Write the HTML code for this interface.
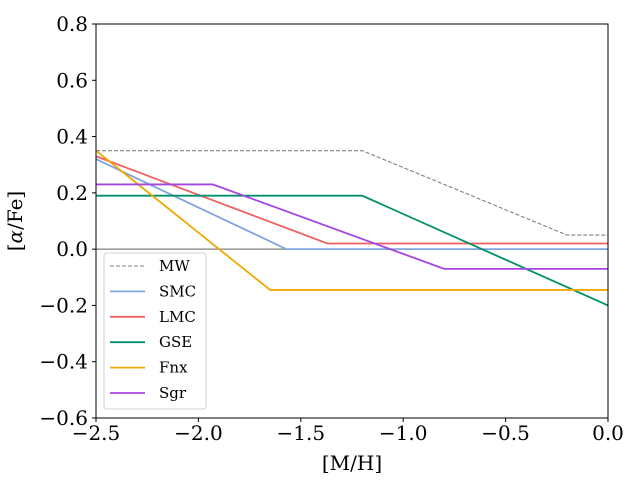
<!DOCTYPE html>
<html><head><meta charset="utf-8"><style>
body{margin:0;background:#fff}
text{font-family:"DejaVu Serif","Liberation Serif",serif;fill:#000}
</style></head><body>
<svg id="c" width="640" height="480" xmlns="http://www.w3.org/2000/svg"></svg>
<script>
const xTicks=[-2.5,-2.0,-1.5,-1.0,-0.5,0.0];
const yTicks=[-0.6,-0.4,-0.2,0.0,0.2,0.4,0.6,0.8];
const seriesNames=["MW","SMC","LMC","GSE","Fnx","Sgr"];
const mwX=[-2.5,-1.2,-0.2,0.0], mwY=[0.35,0.35,0.05,0.05];
const smcX=[-2.5,-1.57,0.0], smcY=[0.32,0.0,0.0];
const lmcX=[-2.5,-1.37,0.0], lmcY=[0.33,0.02,0.02];
const gseX=[-2.5,-1.2,0.0], gseY=[0.19,0.19,-0.2];
const fnxX=[-2.5,-1.65,0.0], fnxY=[0.35,-0.145,-0.145];
const sgrX=[-2.5,-1.93,-0.8,0.0], sgrY=[0.23,0.23,-0.07,-0.07];
const colors=["#808080","#7fa5e0","#f0605f","#00906a","#eeaa00","#a545e0"];
const L=96,R=608,T=24,B=418;
const sx=v=>L+(v+2.5)/2.5*(R-L);
const sy=v=>T+(0.8-v)/1.4*(B-T);
const svg=document.getElementById('c');
const NS="http://www.w3.org/2000/svg";
function mk(t,a,p){const e=document.createElementNS(NS,t);for(const k in a)e.setAttribute(k,a[k]);(p||svg).appendChild(e);return e;}
let z=mk('line',{x1:L,x2:R,y1:sy(0),y2:sy(0),stroke:'#808080','stroke-width':1.2});


const xs=[mwX,smcX,lmcX,gseX,fnxX,sgrX], ys=[mwY,smcY,lmcY,gseY,fnxY,sgrY];
xs.forEach((X,i)=>{
 const pts=X.map((x,j)=>sx(x)+','+sy(ys[i][j])).join(' ');
 const p=mk('polyline',{points:pts,fill:'none',stroke:colors[i],'stroke-width':1.8});
 if(i==0){p.setAttribute('stroke-dasharray','4,2');p.setAttribute('stroke-width',1.1);}
 
 
});
const ax=mk('rect',{x:L,y:T,width:R-L,height:B-T,fill:'none',stroke:'#000','stroke-width':1});


xTicks.forEach(t=>{
 mk('line',{x1:sx(t),x2:sx(t),y1:B,y2:B+4,stroke:'#000'});
 const tx=mk('text',{x:sx(t),y:B+22,'text-anchor':'middle','font-size':20});
 tx.textContent=(t<0?'\u2212':'')+Math.abs(t).toFixed(1);
 
 
});
yTicks.forEach(t=>{
 mk('line',{x1:L-4,x2:L,y1:sy(t),y2:sy(t),stroke:'#000'});
 const tx=mk('text',{x:L-8,y:sy(t)+7,'text-anchor':'end','font-size':20});
 tx.textContent=(t<0?'\u2212':'')+Math.abs(t).toFixed(1);
 
 
});
const xl=mk('text',{x:352,y:470,'text-anchor':'middle','font-size':20});xl.textContent='[M/H]';


const yl=mk('text',{x:0,y:0,'text-anchor':'middle','font-size':20,transform:'translate(22,221) rotate(-90)'});
yl.innerHTML='[<tspan font-style="italic">α</tspan>/Fe]';


const lg=mk('g',{});


mk('rect',{x:104,y:253,width:102,height:156,rx:3,fill:'#fff','fill-opacity':0.8,stroke:'#d0d0d0'},lg);
seriesNames.forEach((n,i)=>{
 const y=266+i*25.4;
 const l=mk('line',{x1:110,x2:145,y1:y,y2:y,stroke:colors[i],'stroke-width':i?1.8:1.1},lg);
 if(i==0)l.setAttribute('stroke-dasharray','4,2');
 const t=mk('text',{x:159,y:y+5,'font-size':15},lg);t.textContent=n;
 
 
});
</script>
</body></html>
